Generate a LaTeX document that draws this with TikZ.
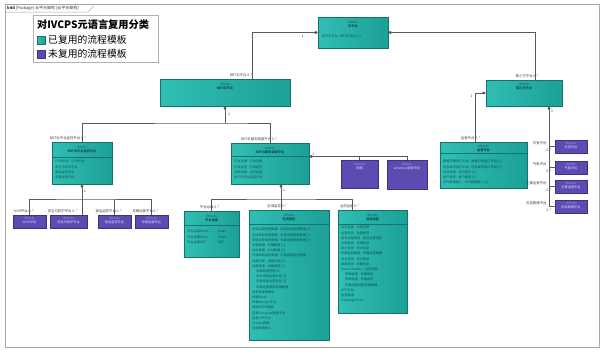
\documentclass[tikz,border=0pt]{standalone}
\usepackage{fontspec}
\setmainfont{Noto Sans CJK SC}
\usetikzlibrary{arrows.meta,calc}
\definecolor{tealA}{RGB}{48,190,180}
\definecolor{tealB}{RGB}{28,160,152}
\definecolor{tealD}{RGB}{22,115,108}
\definecolor{purA}{RGB}{92,76,178}
\definecolor{purD}{RGB}{62,50,132}
\definecolor{purL}{RGB}{170,160,230}
\definecolor{txtD}{RGB}{18,80,75}
\definecolor{lineC}{RGB}{90,90,90}
\newcommand\Blk[8]{%
 \node[#2, minimum width={#5-#3}, minimum height={#6-#4}] (#1) at ({(#3+#5)/2},{(#4+#6)/2}) {};
 \node[#2t, anchor=north] (#1-s) at ([yshift=-#7pt]#1.north) {«block»};
 \node[#2t, anchor=north] (#1-t) at ([yshift=-0.8pt]#1-s.south) {\bfseries #8};}
\begin{document}
\begin{tikzpicture}[x=1pt,y=-1pt,
  tb/.style={draw=tealD, left color=tealA, right color=tealB, line width=0.5pt, inner sep=0pt},
  pb/.style={draw=purD, fill=purA, line width=0.5pt, inner sep=0pt},
  tbt/.style={font=\fontsize{3.2}{3.6}\selectfont, text=txtD, inner sep=0pt},
  pbt/.style={font=\fontsize{3.2}{3.6}\selectfont, text=purL, inner sep=0pt},
  attr/.style={font=\fontsize{3.2}{5.2}\selectfont, text=txtD, inner sep=0pt, align=left, anchor=north west},
  sep/.style={draw=tealD, line width=0.3pt},
  ln/.style={draw=lineC, line width=0.6pt},
  dia/.style={ln,-{Diamond[length=4pt,width=3pt]}},
  lb/.style={font=\fontsize{3.4}{4}\selectfont, inner sep=0pt, text=black!75}]
\useasboundingbox (0,0) rectangle (604,351);
\fill[white] (0,0) rectangle (604,351);
% frame and tab
\draw[gray!70, line width=0.6pt] (5,4) rectangle (599,347);
\draw[gray!70, line width=0.5pt] (5,12) -- (88,12) -- (93,7) -- (93,4);
\node[font=\fontsize{4}{5}\selectfont, anchor=west, inner sep=0pt, text=black!80] (hdr) at (7,8) {\textbf{bdd} [Package] 云平台架构 [云平台架构]};
% legend
\node[draw=gray!60, line width=0.5pt, minimum width=125, minimum height=47, inner sep=0pt] (leg) at (95.5,38.5) {};
\node[anchor=west, inner sep=0pt, font=\fontsize{10.2}{12}\selectfont\bfseries] (legt) at (37,25) {对IVCPS元语言复用分类};
\node[tb, minimum size=8] (lg1) at (41,40) {};
\node[anchor=west, inner sep=0pt, font=\fontsize{9.8}{11}\selectfont] (lgt1) at (48,40) {已复用的流程模板};
\node[pb, minimum size=8] (lg2) at (41,54) {};
\node[anchor=west, inner sep=0pt, font=\fontsize{9.8}{11}\selectfont] (lgt2) at (48,54) {未复用的流程模板};
% blocks
\Blk{top}{tb}{318}{17}{388}{48}{4}{云平台}
\Blk{brt}{tb}{160}{79}{290}{106}{4}{BRT云平台}
\Blk{thd}{tb}{486}{80}{562}{106}{3}{第三方平台}
\Blk{ops}{tb}{52}{142}{112}{184}{4}{BRT云平台监控平台}
\Blk{svc}{tb}{231}{143}{309}{184}{4}{BRT云服务调度平台}
\Blk{pa}{pb}{341}{160}{378}{188}{3}{地图}
\Blk{pq}{pb}{387}{160}{427}{189}{3}{wireless通信平台}
\Blk{run}{tb}{440}{142}{527}{188}{3}{运营平台}
\Blk{ra}{pb}{555}{140}{587}{153}{2}{交管平台}
\Blk{rb}{pb}{555}{161}{587}{174}{2}{气象平台}
\Blk{rc}{pb}{555}{180}{587}{193}{2}{主要运营平台}
\Blk{rd}{pb}{555}{200}{587}{213}{2}{应急救援平台}
\Blk{la}{pb}{13}{215}{46}{228}{2}{OCM平台}
\Blk{lb}{pb}{50}{215}{87}{228}{2}{安全与防护平台}
\Blk{lc}{pb}{98}{215}{131}{228}{2}{营运监控平台}
\Blk{ld}{pb}{135}{215}{168}{228}{2}{车辆运营平台}
\Blk{da}{tb}{184}{211}{239}{257}{4}{平台运维}
\Blk{db}{tb}{249}{210}{329}{340}{4}{区域监控}
\Blk{dc}{tb}{338}{210}{407}{313}{4}{当前运营}
% separators
\draw[sep] ([yshift=-15pt]ops.north west) -- ([yshift=-15pt]ops.north east);
\draw[sep] ([yshift=-13pt]svc.north west) -- ([yshift=-13pt]svc.north east);
\draw[sep] ([yshift=-11pt]run.north west) -- ([yshift=-11pt]run.north east);
\draw[sep] ([yshift=-14pt]da.north west) -- ([yshift=-14pt]da.north east);
\draw[sep] ([yshift=-14pt]db.north west) -- ([yshift=-14pt]db.north east);
\draw[sep] ([yshift=-14pt]dc.north west) -- ([yshift=-14pt]dc.north east);
% attributes
\node[attr] (top-a) at (322,35) {BRT云平台 : BRT云平台 [1]};
\node[attr] (ops-a) at (55,160) {OCM平台 : OCM平台\\安全与防护平台\\营运监控平台\\车辆运营平台};
\node[attr] (svc-a) at (234,160) {平台运维 : 平台运维\\区域监控 : 区域监控\\当前运营 : 当前运营\\BRT云平台监控平台};
\node[attr] (run-a) at (443,160) {数据交换接口平台 : 数据交换接口平台 [1]\\信息发布接口平台 : 信息发布接口平台 [1]\\综合查询 : 综合查询 [1]\\客户服务 : 客户服务 [1]\\GPS数据接入 : GPS数据接入 [1]};
\node[attr] (da-a) at (187,230) {平台运维Email \hspace{8pt} Email\\平台运维Mesh \hspace{9pt} Mesh\\平台运维SMT \hspace{10pt} SMT};
\node[attr] (db-a) at (252,228) {区域运营管理数据 : 区域运营管理数据 [1]\\区域调度管理数据 : 区域调度管理数据 [1]\\车辆运营管理数据 : 车辆运营管理数据 [1]\\车辆数据 : 车辆数据 [1]\\站台数据 : 站台数据 [1]\\交通视频监控数据 : 交通视频监控数据\\线路列表 : 线路列表 [1]\\线路调度 : 线路调度 [1]\\\hspace{4pt}车辆调度管理 [1]\\\hspace{4pt}实时调度运营信息 [1]\\\hspace{4pt}车辆调度运营信息 [1]\\\hspace{4pt}车辆运营调度管理数据\\运营调度数据库\\线路Email\\车载Monitor平台\\通道MSDS数据\\运营Compute数据平台\\运营GPS平台\\Sydney数据\\运营数据接入};
\node[attr] (dc-a) at (341,226) {当前运营 : 当前运营\\运营状态 : 运营状态\\客流运营信息 : 客流运营信息\\车辆信息 : 车辆信息\\班次信息 : 班次信息\\车辆运营数据 : 车辆运营数据\\站点信息 : 站点信息\\线路信息 : 线路信息\\MainSchedule : 运营调度\\\hspace{4pt}车辆调度 : 车辆调度\\\hspace{4pt}车辆调度 : 车辆调度\\\hspace{4pt}车辆运营调度管理数据\\GPS平台\\运营数据\\PassengerFlow};
% connectors
\draw[dia] ([xshift=27pt]brt.north) |- (top.west);
\node[lb, anchor=north] (l1) at ([xshift=-15pt,yshift=-2pt]top.west) {1};
\node[lb, anchor=south] (l2) at ([xshift=16pt,yshift=2pt]brt.north) {BRT云平台 0..*};
\draw[dia] ([xshift=11pt]thd.north) |- (top.east);
\node[lb, anchor=south] (l3) at ([xshift=3pt,yshift=2pt]thd.north) {第三方平台 0..*};
\draw[dia] ([xshift=-8pt]run.north) |- (thd.west);
\node[lb, anchor=north] (l4) at ([xshift=-14pt,yshift=-2pt]thd.west) {1};
\node[lb, anchor=south] (l5) at ([xshift=-13pt,yshift=2pt]run.north) {运营平台 0..*};
\coordinate (sp) at ([xshift=25pt]thd.south);
\draw[dia] (rd.west) -| (sp);
\draw[ln] (ra.west) -- (ra.west -| sp);
\draw[ln] (rb.west) -- (rb.west -| sp);
\draw[ln] (rc.west) -- (rc.west -| sp);
\node[lb, anchor=west] (l6) at ([xshift=2pt,yshift=-5pt]sp) {1};
\foreach \b/\t in {ra/交管平台,rb/气象平台,rc/主要运营平台,rd/应急救援平台}{
  \node[lb, anchor=east] at ([xshift=-8pt,yshift=3.5pt]\b.west) {\t};
  \node[lb, anchor=east] at ([xshift=-3pt,yshift=-4pt]\b.west) {0..*};}
\coordinate (j1) at (225,123);
\draw[dia] (j1) -- (brt.south);
\draw[ln] (ops.north) |- (j1) -| (svc.north);
\node[lb, anchor=west] (l7) at ([xshift=3pt,yshift=-8pt]brt.south) {1};
\node[lb, anchor=south] (l8) at ([xshift=-14pt,yshift=2pt]ops.north) {BRT云平台监控平台 0..*};
\node[lb, anchor=south] (l9) at ([xshift=-11pt,yshift=2pt]svc.north) {BRT云服务调度平台 1..*};
\coordinate (j2) at (82,199);
\draw[dia] (j2) -- (ops.south);
\draw[ln] (la.north) |- (j2) -| (ld.north);
\draw[ln] (lc.north) -- (lc.north |- j2);
\draw[ln] (j2) -- (lb.north -| j2);
\node[lb, anchor=west] (l10) at ([xshift=2pt,yshift=-7pt]ops.south) {1};
\foreach \b/\t in {la/OCM平台,lb/安全与防护平台,lc/营运监控平台,ld/车辆运营平台}{
  \node[lb, anchor=south] at ([xshift=-6pt,yshift=2pt]\b.north) {\t\ 0..*};}
\coordinate (j3) at ([yshift=7pt]svc.east);
\draw[dia] (pq.north) |- (j3);
\draw[ln] (pa.north) -- (pa.north |- j3);
\node[lb, anchor=south west] (l11) at ([xshift=3pt,yshift=1pt]j3) {1};
\coordinate (j4) at (281,199);
\draw[dia] (j4) -- (svc.south -| j4);
\draw[ln] (da.north) |- (j4) -| ([xshift=-20pt]dc.north);
\draw[ln] (j4) -- (db.north -| j4);
\node[lb, anchor=west] (l12) at ([xshift=2pt,yshift=-6pt]svc.south -| j4) {1};
\node[lb, anchor=south] (l13) at ([xshift=-2pt,yshift=2pt]da.north) {平台运维 0..*};
\node[lb, anchor=south] (l14) at ([xshift=-12pt,yshift=2pt]db.north) {区域监控 0..*};
\node[lb, anchor=south] (l15) at ([xshift=-23pt,yshift=2pt]dc.north) {当前运营 0..*};
\end{tikzpicture}
\end{document}
